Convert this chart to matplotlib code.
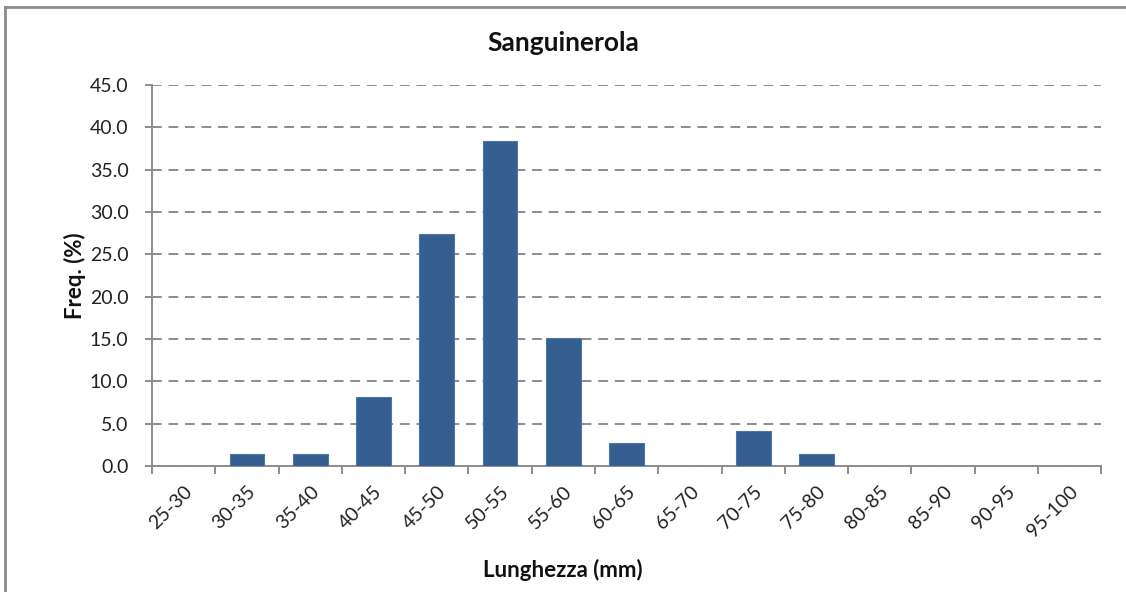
import matplotlib.pyplot as plt
from matplotlib.lines import Line2D
import numpy as np

plt.rcParams['font.family'] = ['Lato', 'DejaVu Sans']

# length classes (mm) and relative frequency (%)
classi = ["25-30", "30-35", "35-40", "40-45", "45-50", "50-55", "55-60", "60-65",
          "65-70", "70-75", "75-80", "80-85", "85-90", "90-95", "95-100"]
freq = [0.0, 1.4, 1.4, 8.2, 27.4, 38.4, 15.1, 2.7, 0.0, 4.1, 1.4, 0.0, 0.0, 0.0, 0.0]
y_ticks = [0, 5, 10, 15, 20, 25, 30, 35, 40, 45]

fig = plt.figure(figsize=(11.26, 5.92), dpi=100)
ax = fig.add_axes([0.135, 0.2128, 0.978 - 0.135, 0.8564 - 0.2128])

x = np.arange(len(classi))
ax.bar(x, freq, width=0.55, color='#365F91', edgecolor='#4F75A6', linewidth=0.8, zorder=3)

ax.set_xlim(-0.5, len(classi) - 0.5)
ax.set_ylim(0, 45)
ax.set_yticks(y_ticks)
ax.set_yticklabels([f"{v:.1f}" for v in y_ticks], fontsize=14, color='#222222')
ax.yaxis.grid(True, linestyle=(0, (5, 3.5)), color='#8c8c8c', linewidth=1.4, zorder=0)

# category ticks sit on the class boundaries, labels in the middle
ax.set_xticks(np.arange(len(classi) + 1) - 0.5)
ax.set_xticklabels([])
ax.set_xticks(x, minor=True)
ax.set_xticklabels(classi, minor=True, rotation=45, ha='right', rotation_mode='anchor',
                   fontsize=14, color='#222222')
ax.tick_params(axis='x', which='minor', length=0, pad=12)
ax.tick_params(axis='x', which='major', length=6, width=1.4, color='#8c8c8c', direction='out')
ax.tick_params(axis='y', length=5, width=1.4, color='#8c8c8c', direction='out', pad=12)

for side in ['top', 'right']:
    ax.spines[side].set_visible(False)
for side in ['left', 'bottom']:
    ax.spines[side].set_color('#8c8c8c')
    ax.spines[side].set_linewidth(1.4)

fig.text(0.5, 1 - 43 / 592, "Sanguinerola", ha='center', va='center',
         fontsize=19, fontweight='bold', color='#111111')
fig.text(75 / 1126, (0.2128 + 0.8564) / 2, "Freq. (%)", rotation=90, ha='center', va='center',
         fontsize=16, fontweight='bold', color='#111111')
fig.text(0.5, 1 - 570 / 592, "Lunghezza (mm)", ha='center', va='center',
         fontsize=16, fontweight='bold', color='#111111')

# chart area frame (top and left edges)
fig.add_artist(Line2D([4.5 / 1126, 1], [1 - 6.5 / 592, 1 - 6.5 / 592], color='#8c8c8c', linewidth=2))
fig.add_artist(Line2D([4.5 / 1126, 4.5 / 1126], [0, 1 - 6.5 / 592], color='#8c8c8c', linewidth=2))

fig.savefig("out.png", dpi=100)
